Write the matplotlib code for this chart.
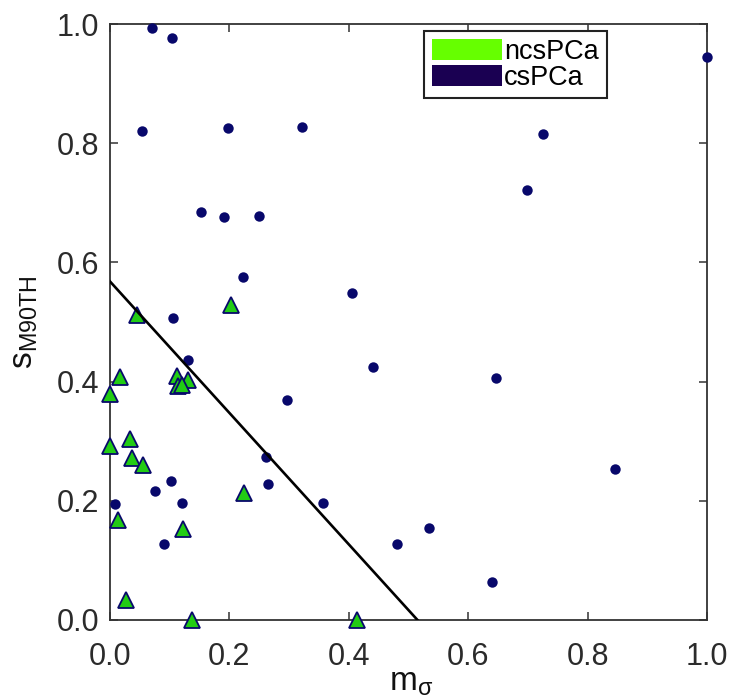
import matplotlib
matplotlib.use('Agg')
import matplotlib.pyplot as plt
from matplotlib.patches import Patch

plt.rcParams['font.family'] = ['Liberation Sans', 'DejaVu Sans']
plt.rcParams['mathtext.fontset'] = 'custom'
plt.rcParams['mathtext.rm'] = 'Liberation Sans'
plt.rcParams['mathtext.it'] = 'Liberation Sans:italic'

# csPCa points (navy dots)
cs_x = [0.070, 0.103, 0.054, 0.198, 0.322, 0.152, 0.191, 0.250, 1.000, 0.725,
        0.698, 0.222, 0.405, 0.106, 0.130, 0.441, 0.647, 0.846, 0.534, 0.480,
        0.640, 0.297, 0.261, 0.264, 0.356, 0.008, 0.075, 0.102, 0.120, 0.090]
cs_y = [0.994, 0.976, 0.821, 0.826, 0.828, 0.685, 0.677, 0.678, 0.945, 0.815,
        0.721, 0.576, 0.548, 0.506, 0.437, 0.424, 0.406, 0.254, 0.154, 0.128,
        0.064, 0.369, 0.274, 0.228, 0.197, 0.194, 0.217, 0.234, 0.197, 0.127]

# ncsPCa points (green triangles)
ncs_x = [0.000, 0.000, 0.017, 0.045, 0.202, 0.034, 0.036, 0.056, 0.224, 0.013,
         0.123, 0.027, 0.138, 0.413, 0.112, 0.131, 0.114, 0.120]
ncs_y = [0.379, 0.292, 0.407, 0.512, 0.529, 0.304, 0.271, 0.260, 0.213, 0.168,
         0.152, 0.034, 0.000, 0.000, 0.410, 0.402, 0.393, 0.394]

# decision boundary
line_x = [0.0, 0.515]
line_y = [0.568, 0.0]

ticks = [0.0, 0.2, 0.4, 0.6, 0.8, 1.0]
tick_labels = ['0.0', '0.2', '0.4', '0.6', '0.8', '1.0']

navy = '#08086b'
tri_green = '#22cc14'

fig = plt.figure(figsize=(7.32, 7.00), dpi=100)
ax = fig.add_axes([0.1503, 0.1143, 0.8156, 0.8514])

ax.plot(cs_x, cs_y, 'o', color=navy, markersize=7.5, markeredgewidth=0, clip_on=False, zorder=3)
ax.plot(ncs_x, ncs_y, '^', markerfacecolor=tri_green, markeredgecolor=navy,
        markersize=11, markeredgewidth=1.3, clip_on=False, zorder=4)
ax.plot(line_x, line_y, '-', color='black', linewidth=1.9, zorder=5)

ax.set_xlim(0, 1)
ax.set_ylim(0, 1)
ax.set_xticks(ticks)
ax.set_xticklabels(tick_labels)
ax.set_yticks(ticks)
ax.set_yticklabels(tick_labels)
ax.tick_params(direction='in', length=6, width=1.1, top=True, right=True,
               labelsize=22, labelcolor='#2b2b2b', color='#333333')
ax.tick_params(axis='x', pad=16)
ax.tick_params(axis='y', pad=8)
for s in ax.spines.values():
    s.set_color('#333333')
    s.set_linewidth(1.3)

ax.set_xlabel(r'm$_{\mathrm{\sigma}}$', fontsize=24, color='#111111')
ax.set_ylabel(r's$_{\mathrm{M90TH}}$', fontsize=24, color='#111111')
ax.xaxis.set_label_coords(0.505, -0.079)
ax.yaxis.set_label_coords(-0.118, 0.5)

handles = [Patch(facecolor='#66ff00', edgecolor='none'),
           Patch(facecolor='#1a0052', edgecolor='none')]
leg = ax.legend(handles, ['ncsPCa', 'csPCa'], loc='upper left',
                bbox_to_anchor=(0.526, 0.988), borderaxespad=0, fontsize=19.5,
                handlelength=2.6, handleheight=0.78, handletextpad=0.08,
                labelspacing=0.0, borderpad=0.28, fancybox=False, framealpha=1)
leg.get_frame().set_edgecolor('#222222')
leg.get_frame().set_linewidth(1.5)

plt.savefig('out.png', dpi=100)
